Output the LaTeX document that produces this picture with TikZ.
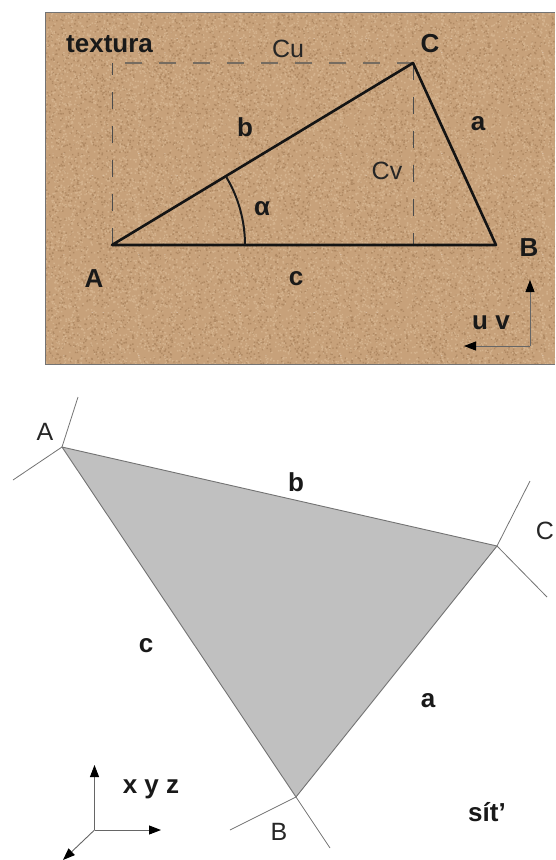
\documentclass[tikz,border=0pt]{standalone}
\usepackage{fontspec}
\setmainfont{Liberation Sans}
\usetikzlibrary{arrows.meta,patterns}
\definecolor{cork}{RGB}{199,161,122}
\definecolor{corkd}{RGB}{150,110,74}
\definecolor{corkl}{RGB}{226,196,160}
\definecolor{meshfill}{RGB}{192,192,192}
\definecolor{dashgrey}{RGB}{118,108,96}
\pgfmathsetseed{4711}
\pgfdeclarepatternformonly{corkspeckA}{\pgfqpoint{0pt}{0pt}}{\pgfqpoint{137pt}{137pt}}{\pgfqpoint{137pt}{137pt}}{%
  \foreach \i in {1,...,900}{%
    \pgfmathsetmacro{\px}{rnd*135}%
    \pgfmathsetmacro{\py}{rnd*135}%
    \pgfpathrectangle{\pgfqpoint{\px pt}{\py pt}}{\pgfqpoint{1.5pt}{1.5pt}}%
    \pgfusepath{fill}%
  }%
}
\pgfdeclarepatternformonly{corkspeckB}{\pgfqpoint{0pt}{0pt}}{\pgfqpoint{101pt}{101pt}}{\pgfqpoint{101pt}{101pt}}{%
  \foreach \i in {1,...,700}{%
    \pgfmathsetmacro{\px}{rnd*99}%
    \pgfmathsetmacro{\py}{rnd*99}%
    \pgfpathrectangle{\pgfqpoint{\px pt}{\py pt}}{\pgfqpoint{1.5pt}{1.5pt}}%
    \pgfusepath{fill}%
  }%
}
\tikzset{
 lab/.style={font=\fontsize{25}{25}\selectfont,text=black!85,inner sep=0pt},
 blab/.style={font=\fontsize{26}{26}\selectfont\bfseries,text=black!90,inner sep=0pt},
 edge/.style={line width=2.6pt,black!92},
 guide/.style={line width=0.9pt,black!70,dash pattern=on 17pt off 17pt},
 guidetop/.style={line width=1.3pt,dashgrey,dash pattern=on 17pt off 17pt,dash phase=21pt},
 stub/.style={line width=0.8pt,black!55},
 axis/.style={line width=0.9pt,black!60,-{Triangle[length=12pt,width=9pt,black]}},
}
\begin{document}
\begin{tikzpicture}[x=1pt,y=-1pt]
\useasboundingbox (0,0) rectangle (555,860);
% texture
\fill[cork] (45,12) rectangle (555,364);
\fill[pattern=corkspeckA,pattern color=corkd,opacity=.45] (45,12) rectangle (555,364);
\fill[pattern=corkspeckB,pattern color=corkl,opacity=.5] (45,12) rectangle (555,364);
\draw[line width=0.8pt,black!55] (555,12) -- (45,12) -- (45,364) -- (555,364);
% top triangle
\coordinate (tA) at (112,245);
\coordinate (tB) at (496,245);
\coordinate (tC) at (413,63);
\coordinate (tTL) at (112,63);
\coordinate (tF) at (413,245);
\draw[guide] (tA) -- (tTL);
\draw[guidetop] (tTL) -- (tC);
\draw[guide] (tC) -- (tF);
\draw[edge,line join=round] (tA) -- (tB) -- (tC) -- cycle;
\coordinate (arcS) at (245,245);
\draw[line width=2pt,black!90] (arcS) arc[start angle=0,end angle=31,radius=133pt];
\node[blab,anchor=base west] (ttex) at (66,52) {textura};
\node[lab] (tCu) at (288,49) {Cu};
\node[blab] (tClab) at (430,44) {C};
\node[blab] (tblab) at (245,127) {b};
\node[blab] (talab) at (478,124) {a};
\node[lab] (tCv) at (387,171) {Cv};
\node[blab] (talpha) at (262,209) {α};
\node[blab] (tAlab) at (94,279) {A};
\node[blab] (tclab) at (296,279) {c};
\node[blab] (tBlab) at (529,248) {B};
\node[blab] (tuv) at (491,323) {u v};
\coordinate (uvO) at (530,346);
\coordinate (uvV) at (530,280);
\coordinate (uvU) at (464,346);
\draw[axis] (uvO) -- (uvV);
\draw[axis] (uvO) -- (uvU);
% mesh triangle
\coordinate (mA) at (62,447);
\coordinate (mB) at (296,797);
\coordinate (mC) at (497,546);
\fill[meshfill] (mA) -- (mB) -- (mC) -- cycle;
\draw[line width=0.9pt,black!55,line join=round] (mA) -- (mB) -- (mC) -- cycle;
\coordinate (sA1) at (78,397);
\coordinate (sA2) at (13,480);
\coordinate (sC1) at (530,481);
\coordinate (sC2) at (547,597);
\coordinate (sB1) at (230,830);
\coordinate (sB2) at (330,848);
\draw[stub] (mA) -- (sA1);
\draw[stub] (mA) -- (sA2);
\draw[stub] (mC) -- (sC1);
\draw[stub] (mC) -- (sC2);
\draw[stub] (mB) -- (sB1);
\draw[stub] (mB) -- (sB2);
\node[lab] (mAlab) at (45,432) {A};
\node[blab] (mblab) at (296,482) {b};
\node[lab] (mClab) at (545,531) {C};
\node[blab] (mclab) at (146,646) {c};
\node[blab] (malab) at (428,701) {a};
\node[blab] (mxyz) at (151,789) {x y z};
\node[blab] (msit) at (487,812) {sít'};
\node[lab] (mBlab) at (279,832) {B};
\coordinate (xyO) at (94.5,830);
\coordinate (xyV) at (94.5,765);
\coordinate (xyH) at (161,830);
\coordinate (xyD) at (63,860);
\draw[axis] (xyO) -- (xyV);
\draw[axis] (xyO) -- (xyH);
\draw[axis] (xyO) -- (xyD);
\end{tikzpicture}
\end{document}
